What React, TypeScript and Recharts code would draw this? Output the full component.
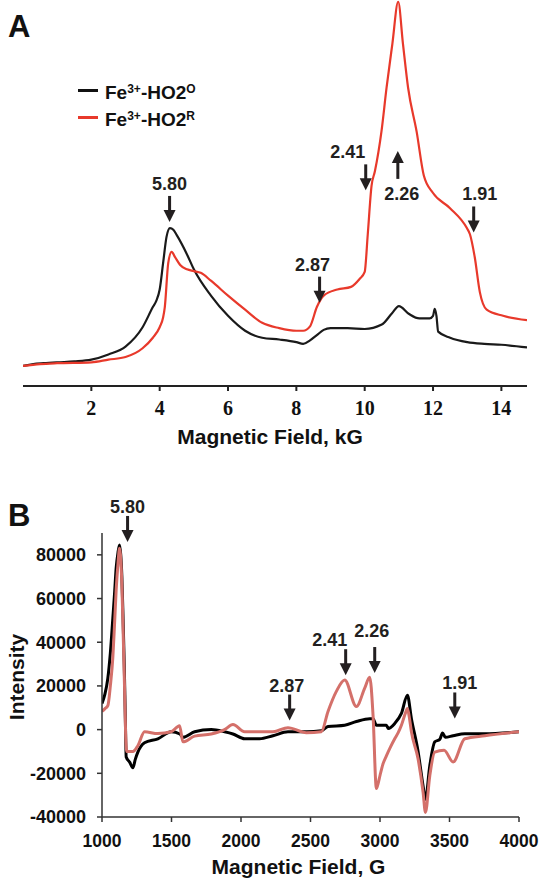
import { LineChart, Line, XAxis, YAxis, ReferenceDot, Legend } from "recharts";

// Panel A: CW EPR spectra (integrated), field in kG, arbitrary intensity
const aFieldO = [0, 0.3, 0.6, 1, 1.5, 2, 2.5, 3, 3.5, 3.8, 3.9, 4, 4.1, 4.2, 4.3, 4.4, 4.5, 4.8, 5, 5.5, 6, 6.5, 7, 7.5, 8, 8.2, 8.4, 8.6, 8.8, 9, 9.5, 10, 10.5, 10.8, 11, 11.3, 11.6, 11.9, 12, 12.05, 12.1, 12.15, 12.5, 13, 13.5, 14, 14.75];
const aSignalO = [23, 25, 26, 27, 28, 30, 36, 45, 67, 90, 97, 110, 140, 170, 180, 178, 172, 150, 133, 103, 80, 63, 55, 53, 50, 48, 52, 58, 64, 66, 66, 65, 70, 83, 91, 82, 77, 77, 80, 88, 80, 62, 55, 50, 48, 47, 44];

const aFieldR = [0, 0.5, 1, 2, 2.5, 3, 3.5, 3.8, 4, 4.1, 4.15, 4.25, 4.35, 4.45, 4.6, 4.8, 5, 5.2, 5.5, 6, 6.5, 7, 7.5, 8, 8.2, 8.4, 8.6, 8.8, 9.2, 9.6, 9.85, 10, 10.09, 10.2, 10.3, 10.49, 10.64, 10.81, 10.98, 11.12, 11.27, 11.52, 11.73, 12, 12.49, 12.99, 13.08, 13.22, 13.37, 13.57, 14.05, 14.75];
const aSignalR = [23, 25, 26, 27, 30, 33, 43, 55, 67, 78, 90, 140, 153, 147, 138, 133, 131, 129, 120, 103, 87, 72, 66, 63, 63, 68, 90, 103, 110, 113, 122, 130, 173, 228, 245, 290, 340, 390, 438, 390, 340, 290, 240, 220, 203, 180, 173, 147, 107, 87, 80, 75];

const aTicks = [2, 4, 6, 8, 10, 12, 14];

// Panel B: derivative spectra, field in G
const bFieldO = [1000, 1020, 1042, 1060, 1078, 1090, 1102, 1115, 1126, 1135, 1143, 1152, 1160, 1168, 1174, 1200, 1222, 1240, 1258, 1306, 1402, 1498, 1560, 1582, 1666, 1786, 1882, 1942, 2026, 2134, 2230, 2338, 2470, 2578, 2626, 2746, 2830, 2926, 2950, 2974, 3046, 3060, 3106, 3154, 3197, 3226, 3274, 3310, 3327, 3358, 3394, 3430, 3450, 3470, 3526, 3610, 3754, 4000];
const bSignalO = [12000, 16000, 23500, 35000, 51000, 62000, 74000, 81000, 84500, 80000, 70000, 50000, 30000, 5000, -12500, -15000, -17500, -13500, -10300, -6000, -4200, -1000, -2000, -3500, -1000, 0, -1000, -2000, -4200, -4200, -2800, -1000, -1000, -500, 1400, 2000, 3700, 5000, 5000, 2000, 2000, 500, 2800, 7400, 15700, 5000, -10000, -25800, -31900, -16600, -5600, -4500, -1500, -3500, -2800, -1900, -1900, -1000];

const bFieldR = [1000, 1020, 1042, 1060, 1078, 1090, 1102, 1115, 1126, 1133, 1143, 1152, 1162, 1170, 1178, 1222, 1258, 1306, 1402, 1498, 1558, 1582, 1666, 1786, 1882, 1942, 2026, 2134, 2230, 2338, 2470, 2578, 2626, 2686, 2746, 2830, 2890, 2926, 2950, 2974, 2985, 3000, 3020, 3046, 3075, 3106, 3130, 3154, 3180, 3197, 3210, 3226, 3274, 3310, 3327, 3358, 3394, 3461, 3526, 3610, 3754, 4000];
const bSignalR = [8300, 9500, 11000, 20000, 33000, 48000, 64000, 76000, 83000, 80000, 66500, 45000, 20000, -2000, -10000, -10000, -7400, -1000, -1800, -1000, 1800, -5600, -3000, -2000, 0, 2300, -1000, -1000, -1000, 900, -1400, -1000, 8300, 17500, 22700, 10600, 19000, 24000, 6500, -27000, -25000, -21000, -16000, -12000, -8000, -4200, -1500, 2000, 7000, 9700, 6000, -1000, -13400, -28700, -37900, -21200, -10300, -9500, -14800, -4200, -2800, -1000];

const bXTicks = [1000, 1500, 2000, 2500, 3000, 3500, 4000];
const bYTicks = [-40000, -20000, 0, 20000, 40000, 60000, 80000];

// g-value markers: label, field, signal at arrow tip
const aMarkers = [
  { label: "5.80", x: 4.29, y: 187, dx: 0, up: false },
  { label: "2.87", x: 8.68, y: 95, dx: -7, up: false },
  { label: "2.41", x: 10.03, y: 223, dx: -18, up: false },
  { label: "2.26", x: 10.97, y: 268, dx: 4, up: true },
  { label: "1.91", x: 13.19, y: 175, dx: 6, up: false },
];
const bMarkers = [
  { label: "5.80", x: 1184, y: 85900, dx: 0, up: false },
  { label: "2.87", x: 2350, y: 4150, dx: -3, up: false },
  { label: "2.41", x: 2753, y: 24900, dx: -16, up: false },
  { label: "2.26", x: 2962, y: 25900, dx: -3, gap: 42, up: false },
  { label: "1.91", x: 3538, y: 5100, dx: 5, up: false },
];

const toRows = (xs: number[], ys: number[]) => xs.map((x, i) => ({ x, y: ys[i] }));

const SANS = "'Liberation Sans', Arial, sans-serif";
const SERIF = "'Liberation Serif', 'Times New Roman', serif";
const INK = "#231f20";

function arrowShape(label: string, dx: number, up: boolean, gap = 38) {
  return (props: any) => {
    const { cx, cy } = props;
    if (up) {
      return (
        <g>
          <rect x={cx - 1.5} y={cy + 10} width={3} height={18} fill={INK} />
          <polygon points={`${cx - 6},${cy + 12} ${cx + 6},${cy + 12} ${cx},${cy}`} fill={INK} />
          <text x={cx + dx} y={cy + 43} textAnchor="middle" dominantBaseline="central" fontFamily={SANS} fontWeight="bold" fontSize={18} fill={INK}>
            {label}
          </text>
        </g>
      );
    }
    return (
      <g>
        <rect x={cx - 1.5} y={cy - 26} width={3} height={16} fill={INK} />
        <polygon points={`${cx - 6},${cy - 12} ${cx + 6},${cy - 12} ${cx},${cy}`} fill={INK} />
        <text x={cx + dx} y={cy - gap} textAnchor="middle" dominantBaseline="central" fontFamily={SANS} fontWeight="bold" fontSize={18} fill={INK}>
          {label}
        </text>
      </g>
    );
  };
}

function LegendBox() {
  const row = (color: string, sup: string) => (
    <div style={{ display: "flex", alignItems: "center", height: 27 }}>
      <span style={{ width: 20, height: 3, background: color, marginRight: 7 }} />
      <span style={{ fontFamily: SANS, fontWeight: "bold", fontSize: 19, color: "#111", lineHeight: "19px" }}>
        Fe<sup style={{ fontSize: 12, verticalAlign: "6px" }}>3+</sup>-HO2
        <sup style={{ fontSize: 12, verticalAlign: "6px" }}>{sup}</sup>
      </span>
    </div>
  );
  return (
    <div>
      {row("#111", "O")}
      {row("#e8392b", "R")}
    </div>
  );
}

export default function App() {
  const rowsAO = toRows(aFieldO, aSignalO);
  const rowsAR = toRows(aFieldR, aSignalR);
  const rowsBO = toRows(bFieldO, bSignalO);
  const rowsBR = toRows(bFieldR, bSignalR);

  return (
    <div style={{ position: "absolute", left: 0, top: 0, width: 540, height: 885, background: "#fff" }}>
      <svg width={540} height={885} style={{ position: "absolute", left: 0, top: 0 }}>
        <text x={8} y={37} fontFamily={SANS} fontWeight="bold" fontSize={31} fill="#111">A</text>
        <text x={8} y={526} fontFamily={SANS} fontWeight="bold" fontSize={31} fill="#111">B</text>
      </svg>

      <div style={{ position: "absolute", left: 0, top: 0 }}>
        <LineChart width={540} height={505} margin={{ top: 0, right: 13, bottom: 0, left: 23 }}>
          <XAxis
            dataKey="x"
            type="number"
            domain={[0, 14.75]}
            ticks={aTicks}
            allowDataOverflow
            height={65}
            stroke="#222"
            strokeWidth={2}
            tickSize={5}
            tickMargin={10}
            tick={{ fill: "#111", fontFamily: SERIF, fontWeight: "bold", fontSize: 20 }}
            label={{
              content: (p: any) => (
                <text x={p.viewBox.x + p.viewBox.width / 2 - 5} y={p.viewBox.y + 58} textAnchor="middle" fontFamily={SANS} fontWeight="bold" fontSize={21} fill="#111">
                  Magnetic Field, kG
                </text>
              ),
            }}
          />
          <YAxis hide type="number" domain={[0, 440]} />
          <Legend
            content={() => <LegendBox />}
            wrapperStyle={{ position: "absolute", top: 77, left: 78, width: 200 }}
          />
          <Line data={rowsAO} dataKey="y" type="monotone" name="Fe3+-HO2O" stroke="#1a1a1a" strokeWidth={2.2} dot={false} isAnimationActive={false} />
          <Line data={rowsAR} dataKey="y" type="monotone" name="Fe3+-HO2R" stroke="#e8392b" strokeWidth={2.2} dot={false} isAnimationActive={false} />
          {aMarkers.map((m) => (
            <ReferenceDot key={m.label} x={m.x} y={m.y} r={0} ifOverflow="visible" shape={arrowShape(m.label, m.dx, m.up)} />
          ))}
        </LineChart>
      </div>

      <div style={{ position: "absolute", left: 0, top: 495 }}>
        <LineChart width={540} height={390} margin={{ top: 38, right: 21, bottom: 0, left: 0 }}>
          <XAxis
            dataKey="x"
            type="number"
            domain={[1000, 4000]}
            ticks={bXTicks}
            allowDataOverflow
            height={68}
            stroke="#333"
            strokeWidth={1.5}
            tickSize={5}
            tickMargin={13}
            tick={{ fill: "#111", fontFamily: SANS, fontWeight: "bold", fontSize: 17.5 }}
            label={{
              content: (p: any) => (
                <text x={p.viewBox.x + p.viewBox.width / 2 - 12} y={p.viewBox.y + 57} textAnchor="middle" fontFamily={SANS} fontWeight="bold" fontSize={21} fill="#111">
                  Magnetic Field, G
                </text>
              ),
            }}
          />
          <YAxis
            type="number"
            domain={[-40000, 90000]}
            ticks={bYTicks}
            allowDataOverflow
            width={102}
            stroke="#333"
            strokeWidth={1.5}
            tickSize={5}
            tickMargin={11}
            tick={{ fill: "#111", fontFamily: SANS, fontWeight: "bold", fontSize: 18 }}
            label={{
              content: (p: any) => (
                <text
                  x={16}
                  y={p.viewBox.y + p.viewBox.height / 2 + 2}
                  transform={`rotate(-90, 16, ${p.viewBox.y + p.viewBox.height / 2 + 2})`}
                  textAnchor="middle"
                  dominantBaseline="central"
                  fontFamily={SANS}
                  fontWeight="bold"
                  fontSize={21}
                  fill="#111"
                >
                  Intensity
                </text>
              ),
            }}
          />
          <Line data={rowsBO} dataKey="y" type="monotone" stroke="#000" strokeWidth={3} dot={false} isAnimationActive={false} />
          <Line data={rowsBR} dataKey="y" type="monotone" stroke="#d4706a" strokeWidth={3} dot={false} isAnimationActive={false} />
          {bMarkers.map((m) => (
            <ReferenceDot key={m.label} x={m.x} y={m.y} r={0} ifOverflow="visible" shape={arrowShape(m.label, m.dx, m.up, m.gap ?? 35)} />
          ))}
        </LineChart>
      </div>
    </div>
  );
}
